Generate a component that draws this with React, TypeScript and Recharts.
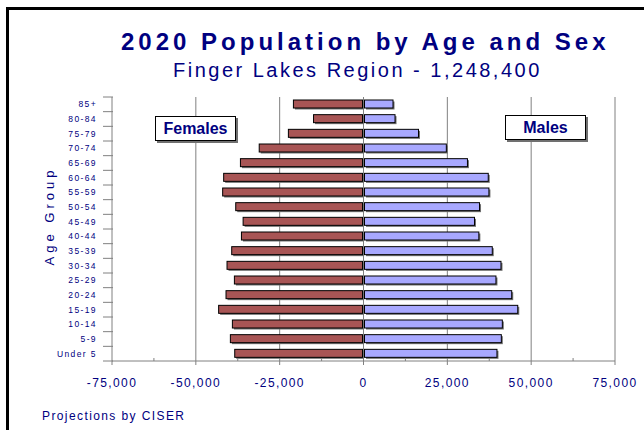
import React from 'react';
import { BarChart, Bar, XAxis, YAxis, CartesianGrid, Label } from 'recharts';

const ages = [
  '85+', '80-84', '75-79', '70-74', '65-69', '60-64', '55-59', '50-54', '45-49',
  '40-44', '35-39', '30-34', '25-29', '20-24', '15-19', '10-14', '5-9', 'Under 5',
];
const females = [
  20900, 14900, 22400, 31100, 36700, 41700, 42000, 38100, 35900,
  36400, 39300, 40700, 38500, 41000, 43200, 39100, 39700, 38400,
];
const males = [
  8800, 9400, 16400, 24700, 31000, 37200, 37400, 34600, 33100,
  34400, 38400, 41000, 39500, 44200, 46000, 41400, 41100, 39800,
];
const xTicks = [
  -75000, -62500, -50000, -37500, -25000, -12500, 0,
  12500, 25000, 37500, 50000, 62500, 75000,
];
const gridValues = [-50000, -25000, 0, 25000, 50000, 75000];

const NAVY = '#000080';
const FONT = '"Liberation Sans", Arial, Helvetica, sans-serif';
const W = 644;
const H = 430;
const PLOT_H = 264;
const BAND = PLOT_H / ages.length;

// females plotted to the left of zero
const rows = ages.map((age, i) => ({ age, female: -females[i], male: males[i] }));

const fmt = (v: number) => (v < 0 ? '-' : '') + Math.abs(v).toLocaleString('en-US');

// bar with a small drop shadow, pulled back 1px from the zero line
const ShadowBar = (props: any) => {
  let { x, y, width, height, fill, dataKey } = props;
  if (width < 0) {
    x += width;
    width = -width;
  }
  if (dataKey === 'female') {
    width -= 1;
  } else {
    x += 1;
    width -= 1;
  }
  if (width <= 0) return null;
  return (
    <g>
      <rect x={x + 1.5} y={y + 1.5} width={width} height={height} fill="#707070" />
      <rect x={x} y={y} width={width} height={height} fill={fill} stroke="#000" strokeWidth={1} />
    </g>
  );
};

const AgeTick = (props: any) => {
  const { x, y, payload, index } = props;
  return (
    <g>
      <line x1={x - 9} x2={x + 1} y1={y + BAND / 2} y2={y + BAND / 2} stroke="#808080" />
      {index === 0 && (
        <line x1={x - 9} x2={x + 1} y1={y - BAND / 2} y2={y - BAND / 2} stroke="#808080" />
      )}
      <text
        x={x - 15}
        y={y}
        dy={3}
        textAnchor="end"
        fontSize={8.5}
        letterSpacing={1.4}
        fill={NAVY}
        fontFamily={FONT}
      >
        {payload.value}
      </text>
    </g>
  );
};

const ValueTick = (props: any) => {
  const { x, y, payload } = props;
  const major = payload.value % 25000 === 0;
  return (
    <g>
      {major ? (
        <line x1={x} x2={x} y1={y} y2={y + 4} stroke="#808080" />
      ) : (
        <line x1={x} x2={x} y1={y - 3} y2={y} stroke="#808080" />
      )}
      {major && (
        <text
          x={x}
          y={y}
          dy={26}
          textAnchor="middle"
          fontSize={12}
          letterSpacing={1.4}
          fill={NAVY}
          fontFamily={FONT}
        >
          {fmt(payload.value)}
        </text>
      )}
    </g>
  );
};

const AgeGroupLabel = (props: any) => {
  const { viewBox } = props;
  const cx = viewBox.x - 3;
  const cy = viewBox.y + viewBox.height / 2 - 13;
  return (
    <text
      x={cx}
      y={cy}
      transform={`rotate(-90, ${cx}, ${cy})`}
      textAnchor="middle"
      dominantBaseline="central"
      fontSize={13}
      letterSpacing={4}
      fill={NAVY}
      fontFamily={FONT}
    >
      Age Group
    </text>
  );
};

const boxStyle: React.CSSProperties = {
  position: 'absolute',
  width: 79,
  height: 23,
  border: '1px solid #000',
  background: '#fff',
  boxShadow: '2px 2px 0 #707070',
  color: NAVY,
  fontFamily: FONT,
  fontWeight: 'bold',
  fontSize: 16,
  lineHeight: '23px',
  textAlign: 'center',
};

export default function App() {
  return (
    <div
      style={{
        position: 'absolute',
        left: 0,
        top: 0,
        width: W,
        height: H,
        background: '#fff',
        overflow: 'hidden',
        fontFamily: FONT,
      }}
    >
      {/* frame */}
      <div
        style={{
          position: 'absolute',
          left: 6,
          top: 7,
          width: W + 20,
          height: H + 20,
          borderLeft: '3px solid #000',
          borderTop: '3px solid #000',
        }}
      />

      <div
        style={{
          position: 'absolute',
          left: 121,
          top: 30,
          fontSize: 24,
          lineHeight: '24px',
          fontWeight: 'bold',
          letterSpacing: 4,
          color: NAVY,
          whiteSpace: 'nowrap',
        }}
      >
        2020 Population by Age and Sex
      </div>
      <div
        style={{
          position: 'absolute',
          left: 173,
          top: 60,
          fontSize: 20,
          lineHeight: '20px',
          letterSpacing: 2.5,
          color: NAVY,
          whiteSpace: 'nowrap',
        }}
      >
        Finger Lakes Region - 1,248,400
      </div>

      <div style={{ position: 'absolute', left: 0, top: 0 }}>
        <BarChart
          width={W}
          height={H}
          data={rows}
          layout="vertical"
          stackOffset="sign"
          barSize={8}
          margin={{ top: 97, right: 29, bottom: 39, left: 52 }}
        >
          <CartesianGrid horizontal={false} verticalValues={gridValues} stroke="#808080" />
          <XAxis
            type="number"
            domain={[-75000, 75000]}
            ticks={xTicks}
            interval={0}
            tick={<ValueTick />}
            tickLine={false}
            tickSize={0}
            tickMargin={0}
            axisLine={{ stroke: '#808080' }}
            height={30}
          />
          <XAxis
            xAxisId="top"
            orientation="top"
            type="number"
            domain={[-75000, 75000]}
            tick={false}
            tickLine={false}
            axisLine={{ stroke: '#000' }}
            height={0}
          />
          <YAxis
            type="category"
            dataKey="age"
            width={60}
            interval={0}
            tick={<AgeTick />}
            tickLine={false}
            tickSize={0}
            tickMargin={0}
            axisLine={{ stroke: '#808080' }}
          >
            <Label content={<AgeGroupLabel />} />
          </YAxis>
          <Bar
            dataKey="female"
            stackId="pop"
            fill="#A85555"
            shape={<ShadowBar />}
            isAnimationActive={false}
          />
          <Bar
            dataKey="male"
            stackId="pop"
            fill="#A8A8FF"
            shape={<ShadowBar />}
            isAnimationActive={false}
          />
        </BarChart>
      </div>

      <div style={{ ...boxStyle, left: 155, top: 116 }}>Females</div>
      <div style={{ ...boxStyle, left: 505, top: 115 }}>Males</div>

      <div
        style={{
          position: 'absolute',
          left: 42,
          top: 410,
          fontSize: 12,
          lineHeight: '12px',
          letterSpacing: 1.4,
          color: NAVY,
          whiteSpace: 'nowrap',
        }}
      >
        Projections by CISER
      </div>
    </div>
  );
}
